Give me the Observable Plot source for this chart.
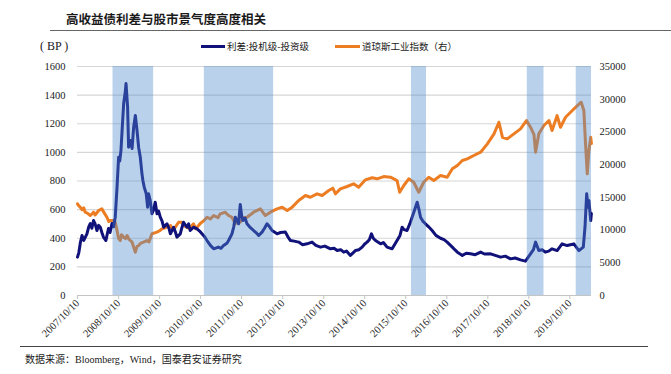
<!DOCTYPE html>
<html><head><meta charset="utf-8">
<script src="https://cdn.jsdelivr.net/npm/d3@7"></script>
<script src="https://cdn.jsdelivr.net/npm/@observablehq/plot@0.6"></script>
<style>
body{margin:0;background:#fff;width:671px;height:374px;overflow:hidden;position:relative;}
#chart{position:absolute;left:0;top:0;}
.t{position:absolute;white-space:nowrap;color:#1a1a1a;}
.sw{position:absolute;height:3px;}
</style></head><body>
<div id="chart"></div>
<div class="t" style="left:66px;top:9px;font:bold 12.5px 'Noto Sans CJK SC';">高收益债利差与股市景气度高度相关</div>
<div style="position:absolute;left:50px;top:30px;width:621px;height:1px;background:#666"></div>
<div class="t" style="left:40px;top:39px;font:12px 'Liberation Serif';">( BP )</div>
<div class="sw" style="left:201px;top:45px;width:24px;background:#11117a"></div>
<div class="t" style="left:227px;top:39px;font:9.5px 'Noto Sans CJK SC';">利差:投机级-投资级</div>
<div class="sw" style="left:335px;top:45px;width:25px;background:#ed7d22"></div>
<div class="t" style="left:362px;top:39px;font:9.5px 'Noto Sans CJK SC';">道琼斯工业指数（右）</div>
<div style="position:absolute;left:20px;top:346px;width:628px;height:1px;background:#444"></div>
<div class="t" style="left:25px;top:351px;font:10px 'Liberation Serif','Noto Sans CJK SC';">数据来源：Bloomberg，Wind，国泰君安证券研究</div>
<script>
const spreadDates = ["2007-10-10","2007-10-22","2007-11-05","2007-11-19","2007-12-05","2008-01-02","2008-01-18","2008-02-01","2008-02-15","2008-03-01","2008-03-15","2008-03-31","2008-04-15","2008-04-30","2008-05-14","2008-05-28","2008-06-19","2008-07-01","2008-07-12","2008-07-26","2008-08-12","2008-08-26","2008-09-10","2008-09-26","2008-10-10","2008-10-20","2008-10-31","2008-11-12","2008-11-24","2008-12-08","2008-12-15","2008-12-22","2008-12-29","2009-01-07","2009-01-15","2009-01-23","2009-02-07","2009-02-21","2009-03-08","2009-03-23","2009-04-06","2009-04-21","2009-05-06","2009-05-15","2009-05-26","2009-06-13","2009-06-25","2009-07-03","2009-07-18","2009-08-03","2009-08-18","2009-09-01","2009-09-17","2009-10-01","2009-10-16","2009-11-01","2009-11-15","2009-12-01","2009-12-15","2010-01-01","2010-01-14","2010-02-12","2010-03-01","2010-03-13","2010-04-12","2010-04-25","2010-05-11","2010-06-10","2010-06-25","2010-07-09","2010-08-08","2010-09-08","2010-10-01","2010-10-22","2010-11-15","2010-12-06","2011-01-05","2011-02-03","2011-03-18","2011-04-10","2011-05-02","2011-06-01","2011-06-16","2011-07-16","2011-08-01","2011-08-15","2011-09-01","2011-09-13","2011-09-28","2011-10-10","2011-10-22","2011-11-10","2011-11-27","2011-12-20","2012-01-25","2012-02-15","2012-03-10","2012-04-09","2012-05-01","2012-05-23","2012-06-15","2012-07-07","2012-08-21","2012-09-20","2012-11-03","2012-11-25","2012-12-18","2013-01-20","2013-03-01","2013-04-05","2013-05-15","2013-06-28","2013-08-01","2013-09-11","2013-10-20","2013-12-09","2014-01-10","2014-02-07","2014-03-10","2014-04-06","2014-05-01","2014-06-05","2014-07-19","2014-08-20","2014-09-17","2014-10-10","2014-10-31","2014-11-20","2014-12-09","2014-12-25","2015-01-14","2015-02-28","2015-03-25","2015-04-27","2015-06-11","2015-07-25","2015-08-20","2015-09-08","2015-09-25","2015-10-22","2015-11-15","2015-12-06","2015-12-25","2016-01-20","2016-02-05","2016-02-19","2016-03-10","2016-04-03","2016-05-01","2016-06-01","2016-07-05","2016-08-15","2016-09-15","2016-10-13","2016-11-28","2016-12-20","2017-01-12","2017-02-25","2017-04-01","2017-05-08","2017-06-20","2017-08-07","2017-09-10","2017-11-04","2017-12-15","2018-02-01","2018-03-15","2018-04-30","2018-06-10","2018-07-28","2018-09-10","2018-10-25","2018-11-20","2018-12-09","2018-12-25","2019-01-07","2019-02-05","2019-03-06","2019-04-05","2019-05-05","2019-06-19","2019-08-02","2019-09-16","2019-10-15","2019-11-15","2019-12-30","2020-02-07","2020-02-22","2020-03-08","2020-03-16","2020-03-23","2020-03-28","2020-04-13","2020-04-19"];
const spreadValues = [268,300,372,419,385,430,480,503,470,524,500,454,490,477,440,408,384,430,468,440,503,480,547,757,966,940,1013,1180,1341,1420,1481,1400,1316,1036,1060,1083,1027,1176,1258,1153,1036,966,850,800,757,711,617,711,664,571,600,652,571,590,547,520,477,490,501,470,431,477,440,408,431,470,512,477,500,454,477,466,450,431,410,384,350,326,338,330,349,365,384,431,480,547,520,501,636,560,524,540,501,480,454,440,419,443,470,501,480,454,431,440,443,410,384,380,373,355,361,373,350,338,345,326,330,314,320,303,310,280,314,320,338,360,373,390,431,400,384,361,370,338,326,384,420,477,460,454,500,547,590,652,600,547,520,501,480,454,420,400,390,373,338,320,303,280,295,291,285,303,290,291,280,268,275,256,262,249,240,291,320,373,340,314,320,303,310,326,314,361,349,355,361,314,338,477,711,650,617,664,524,573];

const dowDates = ["2007-10-10","2007-10-22","2007-11-03","2007-11-20","2007-12-05","2007-12-17","2008-01-05","2008-02-01","2008-03-01","2008-03-15","2008-04-15","2008-05-14","2008-06-01","2008-06-28","2008-07-15","2008-07-27","2008-08-26","2008-09-10","2008-09-26","2008-10-10","2008-10-25","2008-11-05","2008-11-24","2008-12-10","2008-12-24","2009-01-10","2009-02-07","2009-02-21","2009-03-08","2009-03-23","2009-04-06","2009-04-25","2009-05-20","2009-06-19","2009-07-08","2009-08-03","2009-09-17","2009-10-10","2009-10-31","2009-12-15","2010-01-15","2010-01-29","2010-02-27","2010-03-28","2010-04-26","2010-05-11","2010-06-25","2010-07-15","2010-08-08","2010-08-28","2010-10-07","2010-11-05","2010-12-06","2011-01-05","2011-02-03","2011-03-15","2011-04-02","2011-05-17","2011-06-16","2011-07-16","2011-08-15","2011-09-05","2011-09-28","2011-10-25","2011-11-27","2012-01-25","2012-03-25","2012-05-08","2012-06-22","2012-08-21","2012-10-05","2012-11-19","2013-01-02","2013-03-01","2013-04-30","2013-06-13","2013-08-12","2013-09-26","2013-11-24","2013-12-30","2014-01-23","2014-03-07","2014-05-06","2014-07-03","2014-08-17","2014-10-16","2014-12-15","2015-01-29","2015-03-28","2015-05-27","2015-07-25","2015-08-17","2015-09-23","2015-11-06","2015-12-20","2016-02-03","2016-03-18","2016-05-02","2016-06-16","2016-08-15","2016-10-13","2016-11-28","2017-01-12","2017-02-25","2017-04-10","2017-06-07","2017-08-07","2017-10-06","2017-12-04","2018-01-17","2018-02-17","2018-04-01","2018-05-30","2018-07-28","2018-09-19","2018-10-25","2018-11-25","2018-12-09","2019-01-07","2019-02-21","2019-04-07","2019-05-05","2019-06-19","2019-07-19","2019-09-02","2019-11-01","2019-12-16","2020-01-19","2020-02-12","2020-02-27","2020-03-13","2020-03-28","2020-04-13","2020-04-19"];
const dowValues = [14012,13700,13500,13100,13400,12730,12600,12224,12730,12300,12990,13250,12700,11960,11300,11460,11460,11200,9930,8700,8400,9300,8910,8700,9170,8600,8150,7400,6620,7500,7640,8000,8150,8400,8200,9430,9680,9900,10190,10440,10700,10200,10440,11200,11200,10700,10300,10500,10950,10200,11000,11400,11960,11700,12224,11900,12480,12730,12224,11960,10950,11400,11200,11900,11960,12730,13250,12224,12730,13250,13500,12990,13500,14520,15280,15020,15540,15280,16040,16400,15540,16300,16660,17070,16550,17680,17990,17830,18180,18080,17570,15780,16810,17830,17310,15780,17310,18080,17570,18340,18080,19360,19870,20630,20890,21400,21900,23180,24710,26480,24190,23940,24710,25470,26740,25720,24600,21900,24710,25980,26740,25210,27500,25720,27240,28270,29030,29540,28270,23180,18600,22160,24190,23230];

const bandStarts = ["2008-08-21","2010-11-12","2015-11-30","2018-09-26","2019-12-06"];
const bandEnds   = ["2009-08-18","2012-07-21","2016-04-12","2019-02-22","2020-04-20"];

const xStart = "2007-10-10", xEnd = "2020-04-20";
const xTickDates = ["2007-10-10","2008-10-10","2009-10-10","2010-10-10","2011-10-10","2012-10-10","2013-10-10","2014-10-10","2015-10-10","2016-10-10","2017-10-10","2018-10-10","2019-10-10"];
const leftTicks = [0,200,400,600,800,1000,1200,1400,1600];
const rightTicks = [0,5000,10000,15000,20000,25000,30000,35000];
const leftMax = 1600, rightMax = 35000;

const parse = d3.utcParse("%Y-%m-%d");
const spread = spreadDates.map((d,i)=>({date: parse(d), value: spreadValues[i]}));
const dow = dowDates.map((d,i)=>({date: parse(d), value: dowValues[i]*leftMax/rightMax}));
const bands = bandStarts.map((d,i)=>({x1: parse(d), x2: parse(bandEnds[i])}));

const chart = Plot.plot({
  width: 671, height: 374,
  marginTop: 66, marginBottom: 79, marginLeft: 77, marginRight: 80,
  style: {fontFamily: "'Liberation Serif', serif", fontSize: "10.5px", color: "#1a1a1a", background: "transparent"},
  x: {type: "utc", domain: [parse(xStart), parse(xEnd)]},
  y: {domain: [0, leftMax]},
  marks: [
    Plot.gridY(leftTicks.slice(1), {stroke: "#d6d6d6", strokeOpacity: 1, strokeWidth: 1.2}),
    Plot.lineY(dow, {x: "date", y: "value", stroke: "#ed7d22", strokeWidth: 3}),
    Plot.lineY(spread, {x: "date", y: "value", stroke: "#11117a", strokeWidth: 3}),
    Plot.rect(bands, {x1: "x1", x2: "x2", y1: 0, y2: leftMax, fill: "#4f8ccc", fillOpacity: 0.4}),
    Plot.ruleY([0], {stroke: "#c4c4c4", strokeWidth: 1.2}),
    Plot.axisY(leftTicks, {tickSize: 0, tickPadding: 12, label: null, tickFormat: d => String(d)}),
    Plot.axisY(rightTicks.map(v => v*leftMax/rightMax), {anchor: "right", tickSize: 0, tickPadding: 8, label: null, tickFormat: d => String(Math.round(d*rightMax/leftMax))}),
    Plot.axisX(xTickDates.map(parse), {tickRotate: -45, tickSize: 4, tickPadding: 2, fontSize: 10.5, stroke: "#c4c4c4", label: null, tickFormat: d3.utcFormat("%Y/%m/%d")})
  ]
});
document.getElementById("chart").appendChild(chart);
</script>
</body></html>
